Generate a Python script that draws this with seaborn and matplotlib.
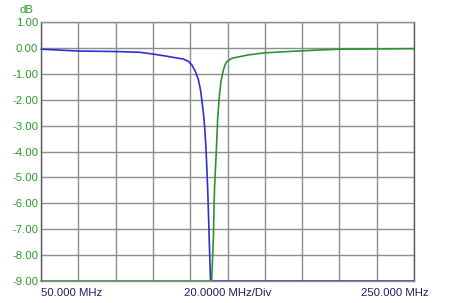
import numpy as np
import pandas as pd
import matplotlib
matplotlib.use("Agg")
import matplotlib.pyplot as plt
import seaborn as sns

# Blue trace (MHz, dB)
blue_f = [50, 70, 90, 103.1, 110.2, 117.4, 122.8, 126.3, 129.0, 130.8, 132.6, 134.3,
          135.6, 136.5, 137.2, 137.8, 138.4, 138.9, 139.4, 139.8, 140.2, 140.6, 140.9, 250]
blue_db = [-0.05, -0.12, -0.14, -0.17, -0.24, -0.32, -0.39, -0.43, -0.52, -0.65, -0.88, -1.20,
           -1.65, -2.17, -2.60, -3.10, -3.80, -4.60, -5.49, -6.40, -7.42, -8.30, -9.0, -9.0]

# Green trace (MHz, dB)
green_f = [50, 141.5, 142.4, 143.0, 144.2, 144.7, 145.6, 146.5, 147.8, 148.7, 149.6, 152.3,
           161.2, 170.1, 187.8, 199.6, 210.3, 249.5, 250]
green_db = [-9.0, -9.0, -7.42, -5.5, -3.67, -2.78, -1.88, -1.30, -0.85, -0.66, -0.53, -0.40,
            -0.27, -0.19, -0.12, -0.08, -0.05, -0.03, -0.03]

y_ticks = [1, 0, -1, -2, -3, -4, -5, -6, -7, -8, -9]
x_grid = list(range(50, 251, 20))
x_labels = ["50.000 MHz", "20.0000 MHz/Div", "250.000 MHz"]
y_unit = "dB"

df = pd.concat([
    pd.DataFrame({"f": blue_f, "db": blue_db, "trace": "blue"}),
    pd.DataFrame({"f": green_f, "db": green_db, "trace": "green"}),
])

sns.set_theme(style="white")
plt.rcParams["font.family"] = ["Liberation Sans", "DejaVu Sans"]

fig = plt.figure(figsize=(4.5, 3.03), dpi=100)
ax = fig.add_axes([41 / 450, 22 / 303, 373 / 450, 259 / 303])

GRID = "#8e8e8e"
ax.set_xlim(50, 250)
ax.set_ylim(-9, 1)
ax.set_xticks(x_grid)
ax.set_xticklabels([])
ax.set_yticks(y_ticks)
ax.set_yticklabels(["%.2f" % v for v in y_ticks], color="#2a9a2a", fontsize=8.2)
ax.tick_params(axis="both", length=0, pad=2)
ax.grid(True, color=GRID, linewidth=1.0)
for s in ["top", "bottom"]:
    ax.spines[s].set_color(GRID)
    ax.spines[s].set_linewidth(1.0)
for s in ["left", "right"]:
    ax.spines[s].set_color("#5a5a66")
    ax.spines[s].set_linewidth(1.0)

sns.lineplot(data=df, x="f", y="db", hue="trace",
             palette={"blue": "#3030d0", "green": "#2f922f"},
             estimator=None, sort=False, legend=False, linewidth=1.2, ax=ax)
for ln in ax.lines:
    ln.set_clip_on(False)
    ln.set_solid_joinstyle("round")
ax.set_xlabel("")
ax.set_ylabel("")

navy = "#1e1e62"
ax.text(0.0, -0.045, x_labels[0], transform=ax.transAxes, ha="left", va="center",
        fontsize=8.2, color=navy)
ax.text(0.5, -0.045, x_labels[1], transform=ax.transAxes, ha="center", va="center",
        fontsize=8.2, color=navy)
ax.text(1.038, -0.045, x_labels[2], transform=ax.transAxes, ha="right", va="center",
        fontsize=8.2, color=navy)
ax.text(-0.038, 1.045, y_unit, transform=ax.transAxes, ha="center", va="center",
        fontsize=8.2, color="#2a9a2a")

fig.savefig("out.png", dpi=100)
